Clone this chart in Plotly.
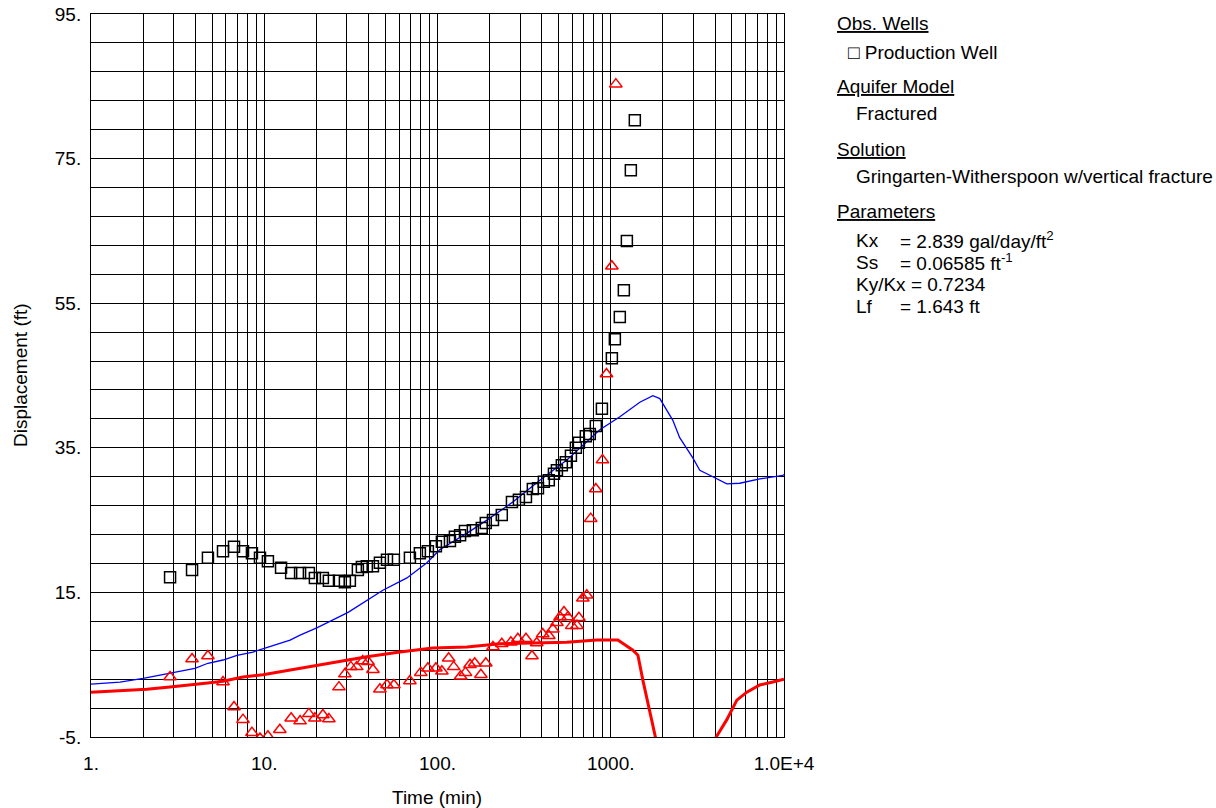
import plotly.graph_objects as go

# Observed drawdown (Production Well) - squares
obs_t = [2.86, 3.83, 4.73, 5.78, 6.69, 7.54, 8.49, 9.45, 10.5, 12.5, 14.3, 16.1, 18.1, 19.6,
         21.8, 23.6, 27.0, 29.2, 31.2, 34.7, 36.6, 39.1, 42.4, 46.5, 51.1, 56.0, 69.3, 79.1,
         88.0, 97.9, 106, 118, 126, 135, 144, 160, 180, 190, 209, 235, 269, 295, 324, 355,
         380, 411, 439, 470, 489, 522, 551, 589, 629, 655, 718, 757, 820, 889, 1015, 1056,
         1128, 1190, 1239, 1306, 1377]
obs_s = [17.1, 18.1, 19.8, 20.7, 21.3, 20.7, 20.4, 19.8, 19.3, 18.4, 17.7, 17.7, 17.7, 17.0,
         17.0, 16.6, 16.6, 16.4, 16.6, 18.1, 18.5, 18.6, 18.6, 19.1, 19.5, 19.5, 19.8, 20.4,
         20.7, 21.4, 22.0, 22.1, 22.7, 22.9, 23.5, 23.6, 23.9, 24.6, 25.0, 25.7, 27.5, 27.8,
         28.2, 29.3, 29.4, 30.3, 30.5, 31.4, 31.9, 32.6, 33.0, 33.9, 35.0, 35.7, 36.6, 36.9,
         38.0, 40.4, 47.4, 50.0, 53.1, 56.8, 63.6, 73.4, 80.3]

# Observed derivative - triangles
der_t = [2.86, 3.83, 4.73, 5.78, 6.69, 7.54, 8.49, 9.45, 10.5, 12.3, 14.3, 16.1, 18.1, 19.6,
         21.8, 23.6, 27.0, 29.2, 31.6, 34.2, 37.0, 39.7, 42.4, 46.5, 51.1, 56.0, 69.3, 80.1,
         88.0, 97.9, 106, 116, 124, 136, 145, 154, 164, 178, 190, 209, 235, 265, 291, 324,
         351, 374, 405, 439, 463, 489, 510, 537, 566, 596, 638, 655, 690, 727, 766, 820,
         896, 945, 1015, 1070]
der_s = [3.3, 5.8, 6.2, 2.6, -0.85, -2.6, -4.4, -5.2, -4.9, -4.0, -2.4, -2.8, -1.8, -2.4,
         -1.95, -2.5, 1.9, 3.7, 4.7, 4.7, 5.5, 5.4, 4.3, 1.6, 2.2, 2.2, 2.75, 3.9,
         4.5, 4.5, 4.1, 5.9, 4.7, 3.4, 3.9, 5.0, 5.2, 3.6, 5.2, 7.45, 7.9, 8.1, 8.6, 8.6,
         6.2, 8.0, 9.25, 9.0, 9.9, 10.8, 11.6, 12.3, 11.6, 10.4, 10.4, 11.5, 14.2, 14.6,
         25.2, 29.3, 33.3, 45.2, 60.1, 85.3]

# Model solution curve (blue)
mod_t = [1.0, 1.47, 2.0, 2.86, 3.98, 4.73, 5.78, 6.96, 8.6, 10.1, 12.3, 14.1, 16.1, 20.1,
         28.5, 30.8, 48.4, 66.6, 86.9, 103, 148, 193, 272, 390, 558, 788, 865, 1129, 1472,
         1750, 1920, 2282, 2500, 2977, 3266, 3882, 4677, 5558, 7248, 9840, 10000]
mod_s = [2.3, 2.6, 3.1, 3.85, 4.5, 5.2, 5.65, 6.3, 6.75, 7.3, 8.0, 8.4, 9.1, 10.1,
         11.9, 12.3, 15.3, 17.0, 19.1, 20.9, 23.2, 25.0, 27.5, 30.5, 33.3, 36.5, 37.5, 39.3, 41.3,
         42.2, 41.8, 38.8, 36.4, 33.6, 31.9, 31.0, 30.0, 30.1, 30.7, 31.2, 31.3]

# Model derivative curve (red)
mder_t = [1.0, 1.53, 2.1, 2.86, 3.88, 4.86, 5.78, 7.54, 9.83, 12.3, 16.1, 18.4, 24.9, 30.8,
          39.1, 60.7, 94.0, 148, 229, 355, 558, 831, 1099, 1342, 1435, 1531, 1682, 1797,
          2100, 3500, 4040, 4677, 5343, 6101, 7248, 8614, 10000]
mder_s = [1.2, 1.4, 1.6, 1.9, 2.3, 2.5, 2.7, 3.3, 3.6, 4.0, 4.5, 4.7, 5.3, 5.6,
          6.1, 6.75, 7.3, 7.45, 7.9, 8.0, 8.1, 8.4, 8.4, 7.0, 6.3, 2.9, -1.7, -5.1,
          -12.0, -12.0, -5.1, -2.6, 0.1, 1.2, 2.2, 2.6, 3.0]

x_major = [1, 10, 100, 1000, 10000]
x_major_labels = ["1.", "10.", "100.", "1000.", "1.0E+4"]
y_labels = {95: "95.", 75: "75.", 55: "55.", 35: "35.", 15: "15.", -5: "-5."}

FONT = "Liberation Sans, Arial, sans-serif"
FS = 19

x_tickvals, x_ticktext = [], []
for d in [1, 10, 100, 1000]:
    for m in range(1, 10):
        v = d * m
        x_tickvals.append(v)
        x_ticktext.append(x_major_labels[x_major.index(v)] if v in x_major else "")
x_tickvals.append(10000)
x_ticktext.append("1.0E+4")

y_tickvals = list(range(-5, 96, 4))
y_ticktext = [y_labels.get(v, "") for v in y_tickvals]

fig = go.Figure()
fig.add_trace(go.Scatter(x=mod_t, y=mod_s, mode="lines",
                         line=dict(color="#0000FF", width=1.3), showlegend=False))
fig.add_trace(go.Scatter(x=mder_t, y=mder_s, mode="lines",
                         line=dict(color="#FF0000", width=3), showlegend=False))
fig.add_trace(go.Scatter(x=obs_t, y=obs_s, mode="markers",
                         marker=dict(symbol="square-open", size=11, color="black",
                                     line=dict(width=1.5, color="black")),
                         showlegend=False))
fig.add_trace(go.Scatter(x=der_t, y=der_s, mode="markers",
                         marker=dict(symbol="triangle-up-open", size=11, color="#FF0000",
                                     line=dict(width=1.5, color="#FF0000")),
                         showlegend=False))

L, R, T, B = 91, 432, 14, 71
PW, PH = 1216 - L - R, 808 - T - B


def px(x):
    return (x - L) / PW


def py(y):
    return (808 - B - y) / PH


annotations = []


def txt(x, y, text, **kw):
    d = dict(x=px(x - 2), y=py(y), xref="paper", yref="paper", text=text, showarrow=False,
             xanchor="left", yanchor="middle", font=dict(family=FONT, size=FS, color="black"))
    d.update(kw)
    annotations.append(d)


txt(837, 24, "<u>Obs. Wells</u>")
txt(848, 52, "\u25a1 Production Well")
txt(837, 87, "<u>Aquifer Model</u>")
txt(856, 114, "Fractured")
txt(837, 149, "<u>Solution</u>")
txt(856, 177, "Gringarten-Witherspoon w/vertical fracture")
txt(837, 211, "<u>Parameters</u>")
param_rows = [(240, "Kx", "= 2.839 gal/day/ft<sup>2</sup>"),
              (262, "Ss", "= 0.06585 ft<sup>-1</sup>"),
              (284, "Ky/Kx = 0.7234", None),
              (306, "Lf", "= 1.643 ft")]
for yy, lab, val in param_rows:
    txt(856, yy, lab)
    if val:
        txt(900, yy, val)

txt(439, 797, "Time (min)", xanchor="center")
annotations.append(dict(x=px(20), y=py(375), xref="paper", yref="paper", text="Displacement (ft)",
                        showarrow=False, textangle=-90, xanchor="center", yanchor="middle",
                        font=dict(family=FONT, size=FS, color="black")))

fig.update_layout(
    width=1216, height=808,
    margin=dict(l=L, r=R, t=T, b=B, pad=0, autoexpand=False),
    paper_bgcolor="white", plot_bgcolor="white",
    font=dict(family=FONT, size=FS, color="black"),
    annotations=annotations,
    showlegend=False,
    xaxis=dict(type="log", range=[0, 4], tickmode="array", tickvals=x_tickvals,
               ticktext=x_ticktext, showgrid=True, gridcolor="black", gridwidth=1,
               showline=True, linecolor="black", linewidth=1, mirror=True,
               ticks="", zeroline=False, ticklabelstandoff=9, automargin=False,
               tickfont=dict(family=FONT, size=FS, color="black")),
    yaxis=dict(range=[-5, 95], tickmode="array", tickvals=y_tickvals, ticktext=y_ticktext,
               showgrid=True, gridcolor="black", gridwidth=1,
               showline=True, linecolor="black", linewidth=1, mirror=True,
               ticks="", zeroline=False, ticklabelstandoff=5, automargin=False,
               tickfont=dict(family=FONT, size=FS, color="black")),
)

fig.write_html("out.html")
